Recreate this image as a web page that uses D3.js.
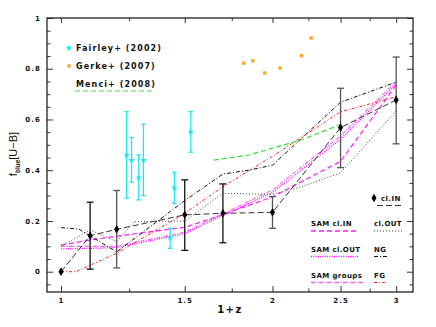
<!DOCTYPE html>
<html>
<head>
<meta charset="utf-8">
<script src="https://cdn.jsdelivr.net/npm/d3@7"></script>
<style>
  body { margin: 0; background: #fff; }
  svg { display: block; }
  .tk text { font-family: "DejaVu Sans", sans-serif; font-weight: bold; font-size: 7px; letter-spacing: 1.1px; fill: #111; }
  .tk line { stroke: #333; stroke-width: 1; }
  .tk path { display: none; }
  .leg { font-family: "DejaVu Sans", sans-serif; font-weight: bold; fill: #111; }
</style>
</head>
<body>
<script>
// observed groups (cl.IN), black diamonds with error bars
var clInZ  = [1.0, 1.1, 1.2, 1.5, 1.7, 2.0, 2.5, 3.0];
var clInF  = [0, 0.142, 0.167, 0.224, 0.230, 0.234, 0.568, 0.677];
var clInLo = [0, 0.010, 0.015, 0.084, 0.114, 0.171, 0.410, 0.504];
var clInHi = [0, 0.274, 0.320, 0.362, 0.346, 0.296, 0.723, 0.846];

// Fairley+ (2002)
var fairZ  = [1.24, 1.26, 1.29, 1.31, 1.43, 1.45, 1.53];
var fairF  = [0.460, 0.440, 0.371, 0.440, 0.134, 0.331, 0.551];
var fairLo = [0.290, 0.353, 0.283, 0.300, 0.092, 0.270, 0.471];
var fairHi = [0.631, 0.529, 0.460, 0.581, 0.171, 0.392, 0.631];

// Gerke+ (2007)
var gerkeZ = [1.82, 1.875, 1.95, 2.05, 2.2, 2.27];
var gerkeF = [0.822, 0.831, 0.783, 0.802, 0.851, 0.921];

// Menci+ (2008)
var menciZ = [1.65, 1.85, 2.2, 2.5];
var menciF = [0.44, 0.46, 0.52, 0.58];

// other observed samples
var clOutZ = [1.0, 1.1, 1.2, 1.27, 1.5, 1.7, 2.0, 2.2, 2.5, 3.0];
var clOutF = [0.100, 0.165, 0.118, 0.197, 0.200, 0.309, 0.305, 0.335, 0.390, 0.634];
var ngZ = [1.0, 1.06, 1.2, 1.5, 1.7, 1.85, 2.0, 2.5, 3.0];
var ngF = [0.174, 0.168, 0.078, 0.280, 0.385, 0.400, 0.420, 0.668, 0.747];
var fgZ = [1.0, 1.05, 1.2, 1.5, 1.7, 2.0, 2.5, 3.0];
var fgF = [0, 0, 0.073, 0.230, 0.335, 0.455, 0.630, 0.690];

// SAM predictions
var samInZ = [1.0, 1.1, 1.2, 1.5, 1.7, 2.0, 2.5, 3.0];
var samInF = [0.105, 0.125, 0.140, 0.175, 0.225, 0.295, 0.435, 0.735];
var samOutZ = [1.0, 1.1, 1.2, 1.5, 1.7, 2.0, 2.5, 3.0];
var samOutF = [0.090, 0.092, 0.095, 0.150, 0.222, 0.312, 0.522, 0.740];
var samGrpZ = [1.0, 1.1, 1.2, 1.5, 1.7, 2.0, 2.5, 3.0];
var samGrpF = [0.100, 0.100, 0.100, 0.156, 0.228, 0.322, 0.535, 0.750];

var xMajor = [1, 1.5, 2, 2.5, 3];
var xMinor = [1.25, 1.75, 2.25, 2.75];
var yMajor = [0, 0.2, 0.4, 0.6, 0.8, 1];

var W = 436, H = 327;
var L = 47, R = 413, T = 18, B = 292;

var x = d3.scaleLog().domain([0.955, 3.17]).range([L, R]);
var y = d3.scaleLinear().domain([-0.08, 1.0]).range([B, T]);

var yMinor = d3.range(-0.05, 0.999, 0.05).filter(function(v) {
  return Math.abs(v * 5 - Math.round(v * 5)) > 0.01;
});

var svg = d3.select("body").append("svg").attr("width", W).attr("height", H);

// axes, ticks inward on all four sides
function fmt(d) { return d === 0 || d === 1 ? String(d) : d3.format(".1f")(d); }
svg.append("g").attr("class", "tk").attr("transform", "translate(" + L + ",0)")
  .call(d3.axisLeft(y).tickValues(yMajor).tickSizeInner(-6).tickSizeOuter(0).tickPadding(6).tickFormat(fmt));
svg.append("g").attr("class", "tk").attr("transform", "translate(" + L + ",0)")
  .call(d3.axisLeft(y).tickValues(yMinor).tickSizeInner(-3.5).tickSizeOuter(0).tickFormat(""));
svg.append("g").attr("class", "tk").attr("transform", "translate(" + R + ",0)")
  .call(d3.axisRight(y).tickValues(yMajor).tickSizeInner(-6).tickSizeOuter(0).tickFormat(""));
svg.append("g").attr("class", "tk").attr("transform", "translate(" + R + ",0)")
  .call(d3.axisRight(y).tickValues(yMinor).tickSizeInner(-3.5).tickSizeOuter(0).tickFormat(""));
svg.append("g").attr("class", "tk").attr("transform", "translate(0," + B + ")")
  .call(d3.axisBottom(x).tickValues(xMajor).tickSizeInner(-6).tickSizeOuter(0).tickPadding(6).tickFormat(function(d) { return String(d); }));
svg.append("g").attr("class", "tk").attr("transform", "translate(0," + B + ")")
  .call(d3.axisBottom(x).tickValues(xMinor).tickSizeInner(-3.5).tickSizeOuter(0).tickFormat(""));
svg.append("g").attr("class", "tk").attr("transform", "translate(0," + T + ")")
  .call(d3.axisTop(x).tickValues(xMajor).tickSizeInner(-5).tickSizeOuter(0).tickFormat(""));
svg.append("g").attr("class", "tk").attr("transform", "translate(0," + T + ")")
  .call(d3.axisTop(x).tickValues(xMinor).tickSizeInner(-3).tickSizeOuter(0).tickFormat(""));

svg.append("rect").attr("x", L).attr("y", T).attr("width", R - L).attr("height", B - T)
  .attr("fill", "none").attr("stroke", "#222").attr("stroke-width", 1.3);

// axis titles
svg.append("text").attr("x", 230).attr("y", 313).attr("text-anchor", "middle")
  .attr("class", "leg").style("font-size", "10px").style("letter-spacing", "1.5px").text("1+z");
var yt = svg.append("text").attr("transform", "translate(17,154) rotate(-90)").attr("text-anchor", "middle")
  .style("font-family", "'Liberation Sans', sans-serif").style("font-size", "11px").attr("fill", "#111");
yt.append("tspan").text("f");
yt.append("tspan").attr("dy", 2.5).style("font-size", "6.5px").style("font-weight", "bold").text("blue");
yt.append("tspan").attr("dy", -2.5).text("[U\u2212B]");

// model / sample lines
var line = d3.line();
function curve(zs, fs, color, dash, width) {
  svg.append("path")
    .attr("d", line(zs.map(function(z, i) { return [x(z), y(fs[i])]; })))
    .attr("fill", "none").attr("stroke", color).attr("stroke-width", width)
    .attr("stroke-dasharray", dash);
}
var st = {
  samIn:  ["#ff1aff", "5,3", 1.2],
  samOut: ["#ff00ff", "1,1.3", 1.3],
  samGrp: ["#f060f0", "4,1.5,1,1.5", 1.1],
  clIn:   ["#333", "6,3", 1],
  clOut:  ["#444", "1,2", 1],
  ng:     ["#111", "4,2,1,2", 1],
  fg:     ["#ff2020", "3,2,1,2", 1],
  menci:  ["#30dd30", "5,3", 1.2]
};
curve(samInZ, samInF, st.samIn[0], st.samIn[1], st.samIn[2]);
curve(samOutZ, samOutF, st.samOut[0], st.samOut[1], st.samOut[2]);
curve(samGrpZ, samGrpF, st.samGrp[0], st.samGrp[1], st.samGrp[2]);
curve(clOutZ, clOutF, st.clOut[0], st.clOut[1], st.clOut[2]);
curve(ngZ, ngF, st.ng[0], st.ng[1], st.ng[2]);
curve(fgZ, fgF, st.fg[0], st.fg[1], st.fg[2]);
curve(menciZ, menciF, st.menci[0], st.menci[1], st.menci[2]);
curve(clInZ, clInF, st.clIn[0], st.clIn[1], st.clIn[2]);

// error bars
function errBars(zs, lo, hi, colorFn, cap, width) {
  zs.forEach(function(z, i) {
    if (lo[i] === hi[i]) return;
    var g = svg.append("g").attr("stroke", colorFn(i)).attr("stroke-width", width);
    g.append("line").attr("x1", x(z)).attr("x2", x(z)).attr("y1", y(lo[i])).attr("y2", y(hi[i]));
    g.append("line").attr("x1", x(z) - cap).attr("x2", x(z) + cap).attr("y1", y(lo[i])).attr("y2", y(lo[i]));
    g.append("line").attr("x1", x(z) - cap).attr("x2", x(z) + cap).attr("y1", y(hi[i])).attr("y2", y(hi[i]));
  });
}
var greyBars = [2, 5, 6, 7];
errBars(clInZ, clInLo, clInHi, function(i) { return greyBars.indexOf(i) >= 0 ? "#555" : "#111"; }, 3.5, 1.3);
errBars(fairZ, fairLo, fairHi, function() { return "#1ee6f0"; }, 2.2, 1.3);

// markers
var diamond = d3.symbol().type(d3.symbolDiamond).size(22);
svg.selectAll(".cin").data(clInZ).enter().append("path")
  .attr("d", diamond).attr("fill", "#000")
  .attr("transform", function(z, i) { return "translate(" + x(z) + "," + y(clInF[i]) + ")"; });
var star = d3.symbol().type(d3.symbolStar).size(15);
svg.selectAll(".fair").data(fairZ).enter().append("path")
  .attr("d", star).attr("fill", "#1ee6f0")
  .attr("transform", function(z, i) { return "translate(" + x(z) + "," + y(fairF[i]) + ")"; });
var sq = d3.symbol().type(d3.symbolSquare).size(11);
svg.selectAll(".gerke").data(gerkeZ).enter().append("path")
  .attr("d", sq).attr("fill", "#ffa31a")
  .attr("transform", function(z, i) { return "translate(" + x(z) + "," + y(gerkeF[i]) + ")"; });

// top-left legend
function legText(px, py, size, ls, s) {
  svg.append("text").attr("class", "leg").attr("x", px).attr("y", py)
    .style("font-size", size + "px").style("letter-spacing", ls + "px").text(s);
}
svg.append("path").attr("d", star).attr("fill", "#1ee6f0").attr("transform", "translate(69,48)");
legText(76, 51, 8, 1.1, "Fairley+ (2002)");
svg.append("path").attr("d", sq).attr("fill", "#ffa31a").attr("transform", "translate(69,66)");
legText(76, 69, 8, 1.1, "Gerke+ (2007)");
legText(76, 87, 8, 1.1, "Menci+ (2008)");
svg.append("line").attr("x1", 75).attr("x2", 154).attr("y1", 91).attr("y2", 91)
  .attr("stroke", st.menci[0]).attr("stroke-width", 1.2).attr("stroke-dasharray", st.menci[1]);

// bottom-right legend
function legLine(x1, x2, yy, s) {
  svg.append("line").attr("x1", x1).attr("x2", x2).attr("y1", yy).attr("y2", yy)
    .attr("stroke", s[0]).attr("stroke-width", s[2] + 0.2).attr("stroke-dasharray", s[1]);
}
svg.append("path").attr("d", diamond).attr("fill", "#000").attr("transform", "translate(374,198)");
legText(381, 201, 7, 0.4, "cl.IN");
legLine(377, 402, 205.5, st.clIn);
legText(311, 226, 7, 0.4, "SAM cl.IN");
legLine(311, 356, 231, st.samIn);
legText(374, 226, 7, 0.4, "cl.OUT");
legLine(374, 402, 231, st.clOut);
legText(311, 252, 7, 0.4, "SAM cl.OUT");
legLine(311, 358, 256.5, st.samOut);
legText(374, 252, 7, 0.4, "NG");
legLine(374, 387, 256.5, st.ng);
legText(311, 278, 7, 0.4, "SAM groups");
legLine(311, 364, 282.5, st.samGrp);
legText(374, 278, 7, 0.4, "FG");
legLine(374, 387, 282.5, st.fg);
</script>
</body>
</html>
